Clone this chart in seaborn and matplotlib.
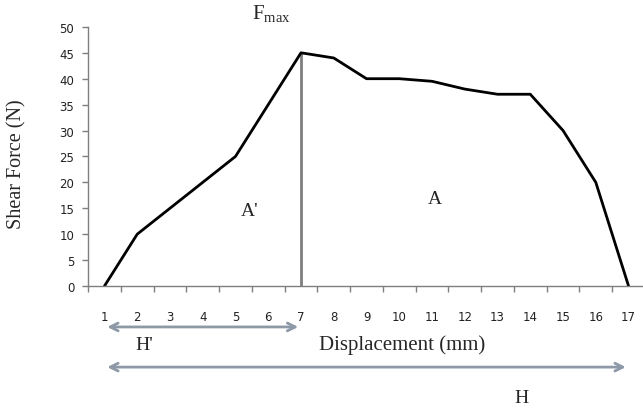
import matplotlib.pyplot as plt
import pandas as pd
import seaborn as sns
from matplotlib.ticker import FixedLocator, MultipleLocator

DISPLACEMENT = list(range(1, 18))
SHEAR_FORCE = [0, 10, 15, 20, 25, 35, 45, 44, 40, 40, 39.5, 38, 37, 37, 30, 20, 0]
F_MAX_POS = 7

LINE_COLOR = "black"
AXIS_COLOR = "#7f7f7f"
ARROW_COLOR = "#8d99a6"
SERIF = ["Liberation Serif", "DejaVu Serif"]

data = pd.DataFrame({"Displacement (mm)": DISPLACEMENT, "Shear Force (N)": SHEAR_FORCE})

sns.set_style("white")
plt.rcParams["font.family"] = ["DejaVu Sans"]

fig = plt.figure(figsize=(6.43, 4.10), dpi=100)
ax = fig.add_axes([0.137, 0.30, 0.866, 0.632])

sns.lineplot(data=data, x="Displacement (mm)", y="Shear Force (N)", color=LINE_COLOR, linewidth=2, ax=ax)

# vertical line at the peak force
peak = SHEAR_FORCE[DISPLACEMENT.index(F_MAX_POS)]
ax.plot([F_MAX_POS, F_MAX_POS], [0, peak], color=AXIS_COLOR, linewidth=2, zorder=1)

ax.set_xlim(0.5, 17.5)
ax.set_ylim(0, 50)

# labels at category centres, tick marks between categories
ax.xaxis.set_major_locator(FixedLocator(DISPLACEMENT))
ax.xaxis.set_minor_locator(FixedLocator([d - 0.5 for d in DISPLACEMENT]))
ax.yaxis.set_major_locator(MultipleLocator(5))
ax.tick_params(axis="x", which="major", length=0, pad=17, labelsize=8.5, colors="#222222")
ax.tick_params(axis="x", which="minor", length=4, width=1, color=AXIS_COLOR, direction="out")
ax.tick_params(axis="y", which="major", length=4, width=1, color=AXIS_COLOR, direction="out",
               labelsize=8.5, labelcolor="#222222", pad=6)
ax.xaxis.set_ticks_position("bottom")
ax.yaxis.set_ticks_position("left")

for side in ["top", "right"]:
    ax.spines[side].set_visible(False)
for side in ["left", "bottom"]:
    ax.spines[side].set_color(AXIS_COLOR)
    ax.spines[side].set_linewidth(1)

ax.set_xlabel("")
ax.set_ylabel("Shear Force (N)", family=SERIF, fontsize=14.5)
ax.yaxis.set_label_coords(-0.11, 0.475)
ax.text(10.09, -0.224, "Displacement (mm)", transform=ax.get_xaxis_transform(),
        family=SERIF, fontsize=15, ha="center", va="center")

ax.text(6.1, 52.8, r"$\mathregular{F_{max}}$", family=SERIF, fontsize=15, ha="center", va="center")
ax.text(5.42, 14.5, "A'", family=SERIF, fontsize=14, ha="center", va="center")
ax.text(11.1, 16.8, "A", family=SERIF, fontsize=14, ha="center", va="center")

# width arrows under the axis
trans = ax.get_xaxis_transform()
arrow_style = dict(arrowstyle="<->", color=ARROW_COLOR, lw=2, mutation_scale=14)
ax.annotate("", xy=(1, -0.158), xytext=(F_MAX_POS, -0.158), xycoords=trans, textcoords=trans,
            arrowprops=arrow_style, annotation_clip=False)
ax.annotate("", xy=(1, -0.313), xytext=(17, -0.313), xycoords=trans, textcoords=trans,
            arrowprops=arrow_style, annotation_clip=False)
ax.text(2.22, -0.224, "H'", transform=trans, family=SERIF, fontsize=14, ha="center", va="center")
ax.text(13.72, -0.43, "H", transform=trans, family=SERIF, fontsize=14, ha="center", va="center")

fig.savefig("out.png", dpi=100)
